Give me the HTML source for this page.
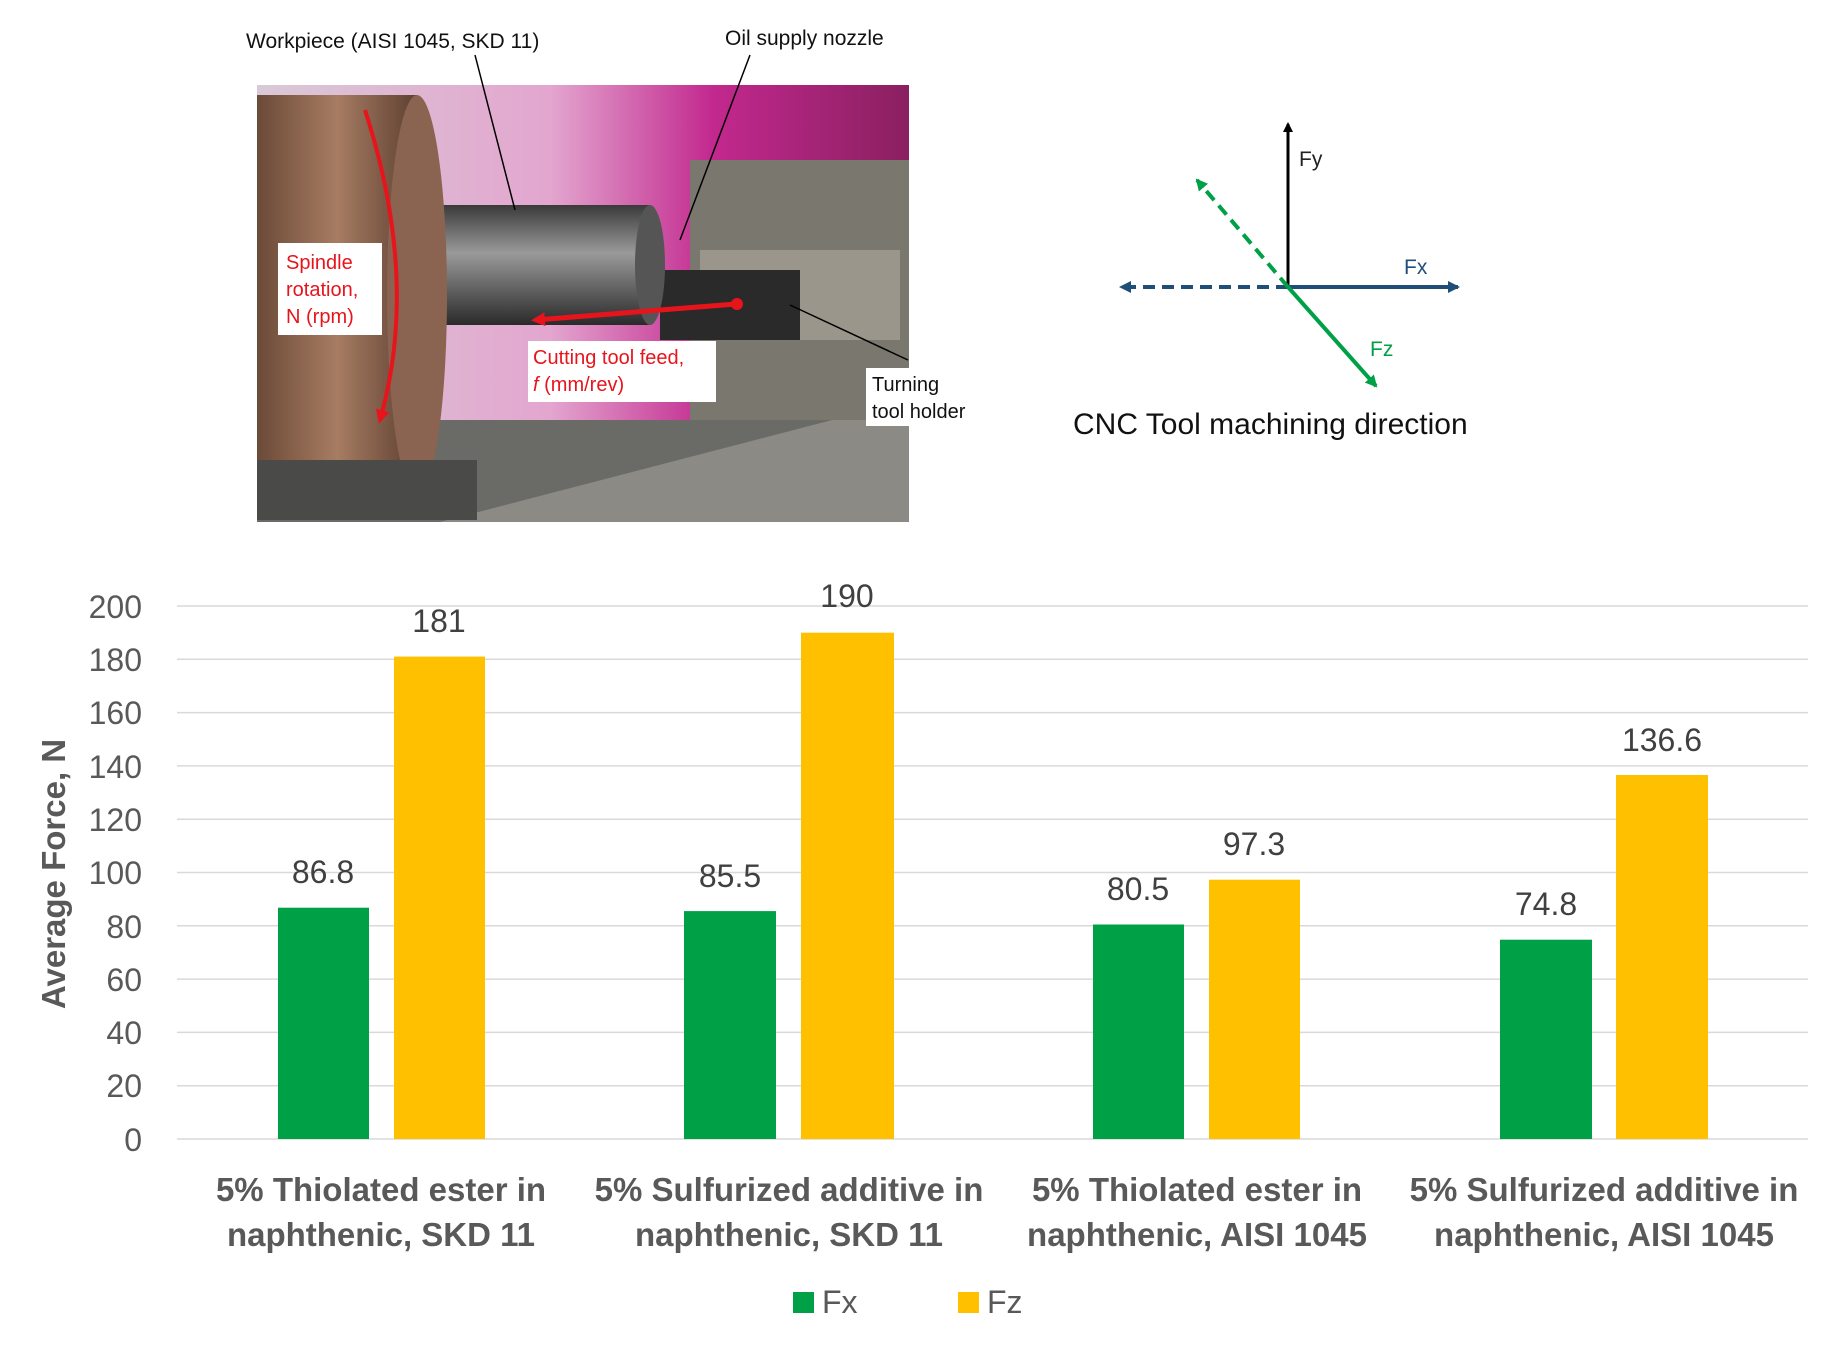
<!DOCTYPE html>
<html><head><meta charset="utf-8"><style>
html,body{margin:0;padding:0;background:#fff}
svg{display:block}
text{font-family:"Liberation Sans",sans-serif}
</style></head><body>
<svg width="1846" height="1356" viewBox="0 0 1846 1356" xmlns="http://www.w3.org/2000/svg">
<defs>
<linearGradient id="bg" x1="0" y1="0" x2="1" y2="0">
<stop offset="0" stop-color="#d9c9d6"/><stop offset="0.45" stop-color="#e3a6cf"/><stop offset="0.7" stop-color="#c2288e"/><stop offset="1" stop-color="#8a2060"/></linearGradient>
<linearGradient id="chuck" x1="0" y1="0" x2="1" y2="0">
<stop offset="0" stop-color="#6b4a38"/><stop offset="0.5" stop-color="#a77c62"/><stop offset="1" stop-color="#5e4032"/></linearGradient>
<linearGradient id="cyl" x1="0" y1="0" x2="0" y2="1">
<stop offset="0" stop-color="#3a3a3a"/><stop offset="0.4" stop-color="#9a9a9a"/><stop offset="1" stop-color="#2a2a2a"/></linearGradient>
<marker id="ab" markerWidth="10" markerHeight="10" refX="8" refY="5" orient="auto" markerUnits="userSpaceOnUse"><path d="M0,0 L10,5 L0,10 z" fill="#000"/></marker>
<marker id="abl" markerWidth="12" markerHeight="12" refX="10" refY="6" orient="auto" markerUnits="userSpaceOnUse"><path d="M0,0 L12,6 L0,12 z" fill="#1f4e79"/></marker>
<marker id="ag" markerWidth="12" markerHeight="12" refX="10" refY="6" orient="auto" markerUnits="userSpaceOnUse"><path d="M0,0 L12,6 L0,12 z" fill="#00a046"/></marker>
<marker id="ar" markerWidth="14" markerHeight="14" refX="10" refY="7" orient="auto" markerUnits="userSpaceOnUse"><path d="M0,0 L14,7 L0,14 z" fill="#e8141c"/></marker>
</defs>

<!-- photo -->
<rect x="257" y="85" width="652" height="437" fill="url(#bg)"/>
<rect x="257" y="420" width="652" height="102" fill="#6a6a66"/>
<polygon points="440,522 909,400 909,522" fill="#8c8a84"/>
<rect x="690" y="160" width="219" height="260" fill="#7a776f"/>
<rect x="700" y="250" width="200" height="90" fill="#9a968c"/>
<rect x="660" y="270" width="140" height="70" fill="#2a2a2a"/>
<rect x="420" y="205" width="230" height="120" fill="url(#cyl)"/>
<ellipse cx="650" cy="265" rx="15" ry="60" fill="#555"/>
<rect x="257" y="95" width="160" height="400" fill="url(#chuck)"/>
<ellipse cx="417" cy="295" rx="30" ry="200" fill="#8a6450"/>
<rect x="257" y="460" width="220" height="60" fill="#4a4a48"/>
<path d="M365,110 Q420,280 380,420" stroke="#e8141c" stroke-width="4" fill="none" marker-end="url(#ar)"/>
<line x1="736" y1="304" x2="535" y2="320" stroke="#e8141c" stroke-width="5" marker-end="url(#ar)"/>
<circle cx="737" cy="304" r="6" fill="#e8141c"/>
<rect x="278" y="243" width="104" height="92" fill="#fff"/>
<text x="286" y="269" font-size="20" fill="#e8141c">Spindle</text>
<text x="286" y="296" font-size="20" fill="#e8141c">rotation,</text>
<text x="286" y="323" font-size="20" fill="#e8141c">N (rpm)</text>
<rect x="528" y="341" width="188" height="61" fill="#fff"/>
<text x="533" y="364" font-size="20" fill="#e8141c">Cutting tool feed,</text>
<text x="533" y="391" font-size="20" fill="#e8141c"><tspan font-style="italic">f</tspan> (mm/rev)</text>
<rect x="866" y="368" width="120" height="58" fill="#fff"/>
<text x="872" y="391" font-size="20" fill="#111">Turning</text>
<text x="872" y="418" font-size="20" fill="#111">tool holder</text>
<line x1="475" y1="55" x2="515" y2="210" stroke="#000" stroke-width="1.5"/>
<line x1="750" y1="55" x2="680" y2="240" stroke="#000" stroke-width="1.5"/>
<line x1="790" y1="305" x2="908" y2="360" stroke="#000" stroke-width="1.5"/>
<text x="246" y="48" font-size="21" fill="#111">Workpiece (AISI 1045, SKD 11)</text>
<text x="725" y="45" font-size="21" fill="#111">Oil supply nozzle</text>

<!-- force diagram -->
<line x1="1288" y1="287" x2="1288" y2="124" stroke="#000" stroke-width="3" marker-end="url(#ab)"/>
<text x="1299" y="166" font-size="21" fill="#222">Fy</text>
<line x1="1288" y1="287" x2="1458" y2="287" stroke="#1f4e79" stroke-width="4" marker-end="url(#abl)"/>
<line x1="1288" y1="287" x2="1121" y2="287" stroke="#1f4e79" stroke-width="4" stroke-dasharray="12,7" marker-end="url(#abl)"/>
<text x="1404" y="274" font-size="21" fill="#1f4e79">Fx</text>
<line x1="1288" y1="287" x2="1376" y2="386" stroke="#00a046" stroke-width="4" marker-end="url(#ag)"/>
<line x1="1288" y1="287" x2="1197" y2="180" stroke="#00a046" stroke-width="4" stroke-dasharray="12,7" marker-end="url(#ag)"/>
<text x="1370" y="356" font-size="21" fill="#00a046">Fz</text>
<text x="1073" y="434" font-size="30" fill="#111">CNC Tool machining direction</text>

<!-- chart gridlines: 0 at 1139, 200 at 606 -->
<g stroke="#d9d9d9" stroke-width="1.5">
<line x1="177" y1="606" x2="1808" y2="606"/>
<line x1="177" y1="659.3" x2="1808" y2="659.3"/>
<line x1="177" y1="712.6" x2="1808" y2="712.6"/>
<line x1="177" y1="765.9" x2="1808" y2="765.9"/>
<line x1="177" y1="819.2" x2="1808" y2="819.2"/>
<line x1="177" y1="872.5" x2="1808" y2="872.5"/>
<line x1="177" y1="925.8" x2="1808" y2="925.8"/>
<line x1="177" y1="979.1" x2="1808" y2="979.1"/>
<line x1="177" y1="1032.4" x2="1808" y2="1032.4"/>
<line x1="177" y1="1085.7" x2="1808" y2="1085.7"/>
<line x1="177" y1="1139" x2="1808" y2="1139"/>
</g>
<g font-size="32" fill="#595959" text-anchor="end">
<text x="142" y="618">200</text><text x="142" y="671">180</text><text x="142" y="724">160</text>
<text x="142" y="778">140</text><text x="142" y="831">120</text><text x="142" y="884">100</text>
<text x="142" y="938">80</text><text x="142" y="991">60</text><text x="142" y="1044">40</text>
<text x="142" y="1097">20</text><text x="142" y="1151">0</text>
</g>
<text transform="translate(65,874) rotate(-90)" font-size="33" font-weight="bold" fill="#595959" text-anchor="middle">Average Force, N</text>

<!-- bars: 2.665 px per unit -->
<g fill="#00a046">
<rect x="278" y="907.7" width="91" height="231.3"/>
<rect x="684" y="911.1" width="92" height="227.9"/>
<rect x="1093" y="924.5" width="91" height="214.5"/>
<rect x="1500" y="939.7" width="92" height="199.3"/>
</g>
<g fill="#ffc000">
<rect x="394" y="656.6" width="91" height="482.4"/>
<rect x="801" y="632.7" width="93" height="506.3"/>
<rect x="1209" y="879.7" width="91" height="259.3"/>
<rect x="1616" y="775.0" width="92" height="364.0"/>
</g>
<g font-size="32" fill="#404040" text-anchor="middle">
<text x="323" y="883">86.8</text><text x="439" y="632">181</text>
<text x="730" y="887">85.5</text><text x="847" y="607">190</text>
<text x="1138" y="900">80.5</text><text x="1254" y="855">97.3</text>
<text x="1546" y="915">74.8</text><text x="1662" y="751">136.6</text>
</g>
<g font-size="33" font-weight="bold" fill="#595959" text-anchor="middle">
<text x="381" y="1201">5% Thiolated ester in</text><text x="381" y="1246">naphthenic, SKD 11</text>
<text x="789" y="1201">5% Sulfurized additive in</text><text x="789" y="1246">naphthenic, SKD 11</text>
<text x="1197" y="1201">5% Thiolated ester in</text><text x="1197" y="1246">naphthenic, AISI 1045</text>
<text x="1604" y="1201">5% Sulfurized additive in</text><text x="1604" y="1246">naphthenic, AISI 1045</text>
</g>
<rect x="793" y="1292" width="21" height="21" fill="#00a046"/>
<text x="822" y="1313" font-size="32" fill="#595959">Fx</text>
<rect x="958" y="1292" width="21" height="21" fill="#ffc000"/>
<text x="987" y="1313" font-size="32" fill="#595959">Fz</text>
</svg>
</body></html>
